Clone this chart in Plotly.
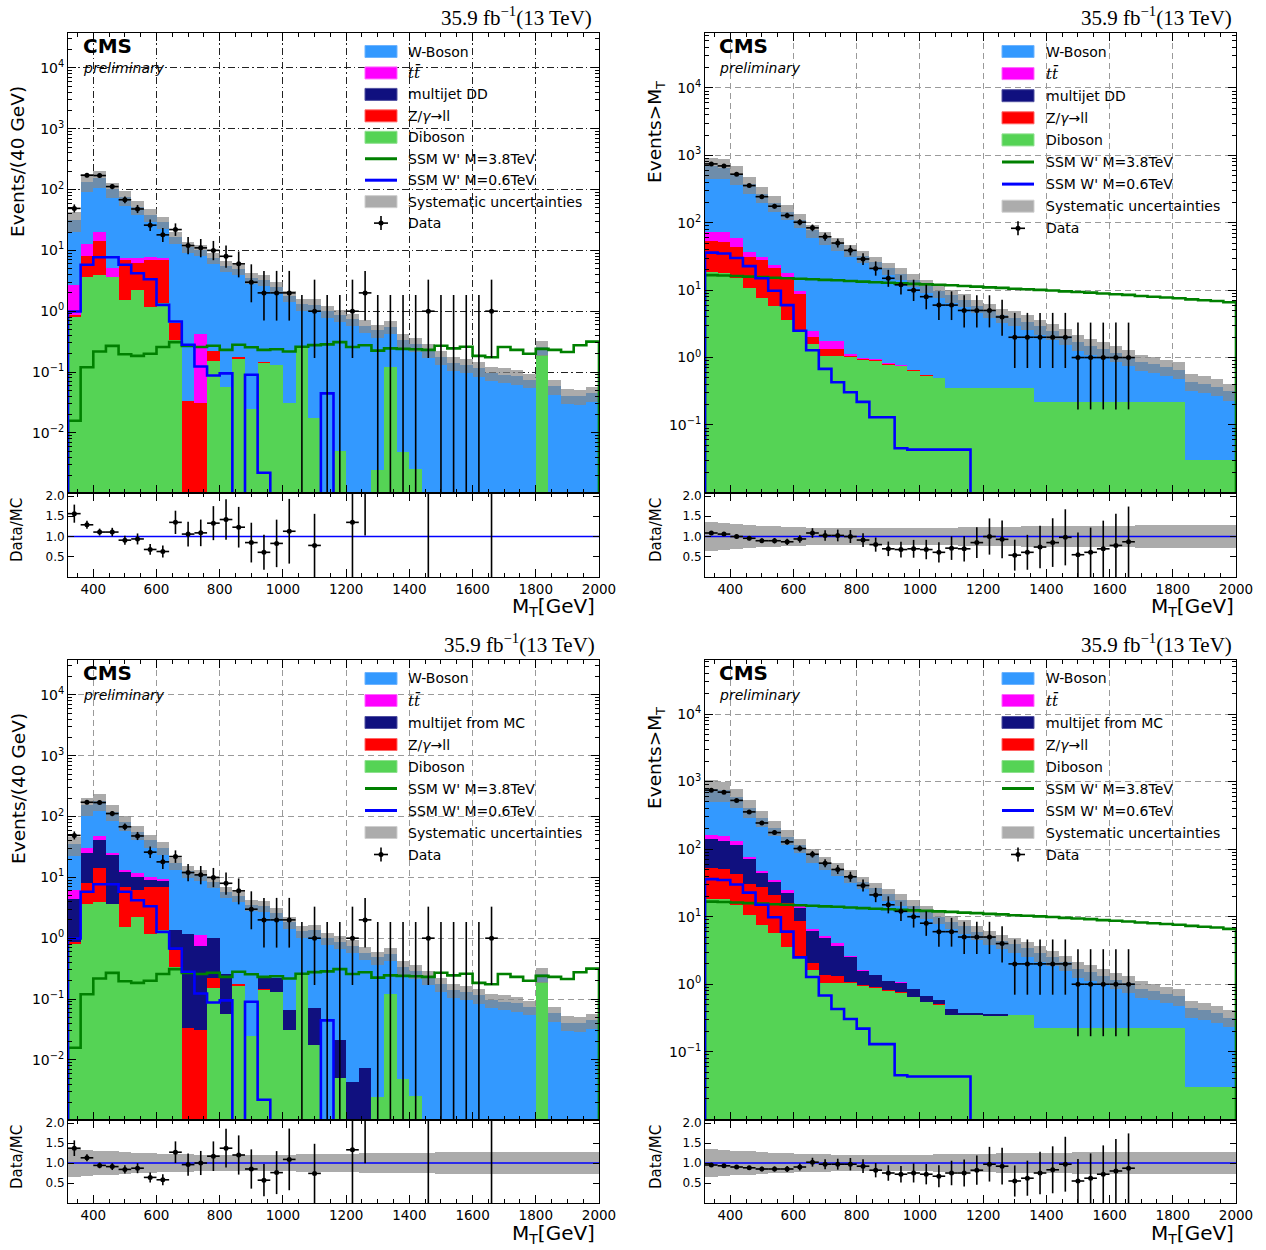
import math
import plotly.graph_objects as go

FIG_W, FIG_H = 1266, 1250

# ---------------- binning ----------------
EDGES = [320, 360, 400, 440, 480, 520, 560, 600, 640, 680, 720, 760, 800, 840, 880,
         920, 960, 1000, 1040, 1080, 1120, 1160, 1200, 1240, 1280, 1320, 1360, 1400,
         1440, 1480, 1520, 1560, 1600, 1640, 1680, 1720, 1760, 1800, 1840, 1880, 1920,
         1960, 2000]
CENTERS = [(a + b) / 2 for a, b in zip(EDGES[:-1], EDGES[1:])]
BIN_W = EDGES[1] - EDGES[0]

# ---------------- left panels: events per 40 GeV ----------------
DATA_L = [49, 172, 170, 112, 68, 48, 26, 18, 22, 12, 11, 10, 8, 6, 3, 2, 2, 2, 0, 1,
          0, 0, 1, 2, 0, 0, 0, 0, 1, 0, 0, 0, 0, 1]
DATA_L_LO = [7.0, 13.1, 13.0, 10.6, 8.2, 6.9, 5.1, 4.2, 4.7, 3.4, 3.3, 3.1, 2.8, 2.4, 1.6,
             1.3, 1.3, 1.3, 0, 0.83, 0, 0, 0.83, 1.3, 0, 0, 0, 0, 0.83, 0, 0, 0, 0, 0.83]
DATA_L_HI = [8.0, 14.1, 14.0, 11.6, 9.3, 7.9, 6.2, 5.3, 5.8, 4.6, 4.4, 4.3, 4.0, 3.6, 2.9,
             2.6, 2.6, 2.6, 1.84, 2.3, 1.84, 1.84, 2.3, 2.6, 1.84, 1.84, 1.84, 1.84, 2.3,
             1.84, 1.84, 1.84, 1.84, 2.3]
W_L = [28.5, 122.5, 132.5, 96, 67, 44, 30.5, 21.5, 15.7, 11.4, 9.7, 7.3, 5.5, 4.7, 3.5,
       3.15, 2.33, 1.75, 1.05, 1.27, 1.0, 0.85, 0.74, 0.57, 0.48, 0.43, 0.33, 0.29, 0.23,
       0.175, 0.14, 0.13, 0.115, 0.096, 0.09, 0.085, 0.074, 0.065, 0.058, 0.041, 0.040, 0.045]
DIB_L = [0.82, 3.6, 4.0, 3.7, 1.5, 2.25, 1.16, 1.36, 0.33, 0, 0, 0.149, 0.057, 0.169, 0.0246,
         0.143, 0.131, 0.031, 0.247, 0.0174, 0, 0.005, 0, 0, 0.0024, 0.123, 0.0049, 0.0025,
         0, 0, 0, 0, 0, 0, 0, 0, 0, 0.19, 0, 0, 0, 0]
Z_L = [0.03, 4.5, 10.5, 0, 5.5, 3.9, 5.8, 5.6, 0.31, 0.033, 0.031, 0.076, 0, 0.005, 0, 0.004,
       0, 0, 0, 0, 0, 0, 0, 0, 0, 0, 0, 0, 0, 0, 0, 0, 0, 0, 0, 0, 0, 0, 0, 0, 0, 0]
TT_L = [1.85, 4.5, 5.9, 1.4, 0.6, 1.45, 0.9, 0.6, 0, 0, 0.39, 0, 0, 0, 0, 0, 0, 0, 0, 0,
        0, 0, 0, 0, 0, 0, 0, 0, 0, 0, 0, 0, 0, 0, 0, 0, 0, 0, 0, 0, 0, 0]
MJDD_L = [0] * 42   # data-driven multijet: nothing visible in the plot
MJMC_L = [3.55, 17.3, 27, 20, 5.5, 4.0, 2.1, 1.8, 0.71, 1.13, 0.72, 0.8, 0.2, 0, 0, 0.08,
          0.094, 0.035, 0, 0.054, 0, 0.016, 0.0043, 0.0074, 0, 0, 0, 0, 0, 0, 0, 0, 0, 0,
          0, 0, 0, 0, 0, 0, 0, 0]
SIG06_L = [0.99, 5.8, 7.7, 7.7, 5.8, 4.2, 3.36, 1.27, 0.675, 0.28, 0.123, 0.0875, 0.095, 0,
           0.09, 0.0022, 0, 0, 0, 0, 0.0445, 0, 0, 0, 0, 0, 0, 0, 0, 0, 0, 0, 0, 0, 0, 0,
           0, 0, 0, 0, 0, 0]
SIG38_L = [0.0158, 0.12, 0.217, 0.269, 0.196, 0.184, 0.2, 0.257, 0.31, 0.269, 0.257, 0.27,
           0.231, 0.28, 0.255, 0.231, 0.237, 0.217, 0.26, 0.277, 0.285, 0.31, 0.257, 0.275,
           0.225, 0.245, 0.24, 0.237, 0.231, 0.27, 0.245, 0.26, 0.184, 0.175, 0.257, 0.231,
           0.2, 0.24, 0.231, 0.213, 0.275, 0.316]
RATIO_TL = [1.565, 1.29, 1.11, 1.11, 0.91, 0.94, 0.68, 0.63, 1.35, 1.06, 1.09, 1.33, 1.42,
            1.23, 0.85, 0.61, 0.83, 1.13, None, 0.78, None, None, 1.35, 3.5, None, None,
            None, None, 4.3, None, None, None, None, 10.4]
RATIO_BL = [1.37, 1.13, 0.94, 0.91, 0.84, 0.87, 0.64, 0.58, 1.27, 0.96, 1.0, 1.17, 1.37,
            1.2, 0.85, 0.57, 0.76, 1.09, None, 0.74, None, None, 1.33, 3.4, None, None,
            None, None, 4.3, None, None, None, None, 10.4]

# ---------------- right panels: events above M_T ----------------
DATA_R = [747, 698, 526, 356, 244, 176, 128, 102, 84, 62, 50, 39, 29, 21, 15, 12, 10, 8, 6,
          6, 5, 5, 5, 4, 2, 2, 2, 2, 2, 1, 1, 1, 1, 1]
DATA_R_LO = [27.3, 26.4, 22.9, 18.9, 15.6, 13.3, 11.3, 10.1, 9.1, 7.9, 7.1, 6.2, 5.4, 4.6,
             3.8, 3.4, 3.1, 2.8, 2.4, 2.4, 2.2, 2.2, 2.2, 1.9, 1.3, 1.3, 1.3, 1.3, 1.3, 0.83,
             0.83, 0.83, 0.83, 0.83]
DATA_R_HI = [27.8, 26.9, 23.4, 19.4, 16.6, 14.3, 12.3, 11.1, 10.2, 8.9, 8.1, 7.3, 6.4, 5.7,
             5.0, 4.6, 4.3, 4.0, 3.6, 3.6, 3.4, 3.4, 3.4, 3.2, 2.6, 2.6, 2.6, 2.6, 2.6, 2.3,
             2.3, 2.3, 2.3, 2.3]
W_R = [613, 586, 467, 336, 240, 172, 129, 99, 74.6, 58, 47, 37.6, 30.6, 24.9, 20.5, 16.8,
       13.6, 11.1, 9.2, 8.0, 6.85, 5.55, 4.65, 3.95, 3.55, 3.05, 2.68, 2.28, 1.88, 1.48,
       1.28, 1.11, 0.95, 0.81, 0.64, 0.58, 0.5, 0.44, 0.41, 0.38, 0.34, 0.29]
DIB_R = [18.5, 18.0, 15.0, 10.7, 7.6, 5.8, 3.6, 2.6, 1.6, 1.05, 1.05, 1.05, 0.95, 0.9, 0.8,
         0.75, 0.65, 0.55, 0.5, 0.35, 0.35, 0.35, 0.35, 0.35, 0.35, 0.35, 0.222, 0.222,
         0.222, 0.222, 0.222, 0.222, 0.222, 0.222, 0.222, 0.222, 0.222, 0.222, 0.03, 0.03,
         0.03, 0.03]
Z_R = [34.5, 33, 28, 20, 20, 15.2, 12.3, 6.1, 0.45, 0.3, 0.28, 0.03, 0.02, 0.02, 0.01, 0.01,
       0.005, 0.005, 0.005, 0, 0, 0, 0, 0, 0, 0, 0, 0, 0, 0, 0, 0, 0, 0, 0, 0, 0, 0, 0, 0,
       0, 0]
TT_R = [21, 21, 16, 6, 3.6, 3.0, 1.9, 1.0, 0.43, 0.41, 0.41, 0.04, 0.03, 0.02, 0.01, 0.01,
        0, 0, 0, 0, 0, 0, 0, 0, 0, 0, 0, 0, 0, 0, 0, 0, 0, 0, 0, 0, 0, 0, 0, 0, 0, 0]
MJDD_R = [0] * 42
MJMC_R = [86, 83, 71, 40, 16, 11.5, 6.7, 4.8, 4.1, 3.5, 2.4, 1.5, 0.6, 0.45, 0.31, 0.3, 0.2,
          0.11, 0.08, 0.08, 0.027, 0.027, 0.011, 0.007, 0, 0, 0, 0, 0, 0, 0, 0, 0, 0, 0, 0,
          0, 0, 0, 0, 0, 0]
SIG06_R = [36, 35, 30, 22.7, 15, 9.8, 6.0, 2.5, 1.28, 0.68, 0.43, 0.305, 0.22, 0.13, 0.13,
           0.045, 0.043, 0.043, 0.043, 0.043, 0.043, 0, 0, 0, 0, 0, 0, 0, 0, 0, 0, 0, 0, 0,
           0, 0, 0, 0, 0, 0, 0, 0]
SIG38_R = [16.7, 16.5, 16.2, 15.9, 15.6, 15.3, 15.0, 14.8, 14.5, 14.2, 14.0, 13.7, 13.4,
           13.1, 12.9, 12.6, 12.4, 12.2, 12.0, 11.8, 11.5, 11.3, 11.0, 10.8, 10.5, 10.3,
           10.1, 9.9, 9.6, 9.4, 9.2, 8.9, 8.7, 8.5, 8.2, 8.0, 7.8, 7.6, 7.3, 7.1, 6.9, 6.6]
RATIO_TR = [1.087, 1.06, 1.0, 0.957, 0.896, 0.896, 0.87, 0.94, 1.087, 1.026, 1.026, 1.0,
            0.913, 0.8, 0.696, 0.678, 0.696, 0.678, 0.61, 0.713, 0.696, 0.85, 1.0, 0.93,
            0.54, 0.61, 0.74, 0.85, 0.98, 0.55, 0.61, 0.696, 0.78, 0.87]
RATIO_BR = [0.95, 0.93, 0.9, 0.88, 0.85, 0.85, 0.85, 0.9, 1.02, 0.97, 0.97, 0.97, 0.92,
            0.82, 0.75, 0.72, 0.75, 0.72, 0.67, 0.75, 0.75, 0.82, 0.97, 0.92, 0.55, 0.62,
            0.75, 0.83, 0.97, 0.55, 0.62, 0.72, 0.8, 0.87]

# relative systematic uncertainty per bin
SYST = [0.35, 0.33, 0.31, 0.29, 0.27, 0.255, 0.24, 0.23, 0.22, 0.215, 0.21, 0.205, 0.2,
        0.2, 0.2, 0.2, 0.205, 0.21, 0.215, 0.22, 0.225, 0.23, 0.235, 0.24, 0.245, 0.25,
        0.255, 0.26, 0.26, 0.265, 0.265, 0.27, 0.27, 0.27, 0.275, 0.275, 0.275, 0.28, 0.28,
        0.28, 0.28, 0.28]

LEG_TOP = ["W-Boson", "tt", "multijet DD", "Z", "Diboson", "SSM W' M=3.8TeV",
           "SSM W' M=0.6TeV", "Systematic uncertainties", "Data"]
LEG_BOT = ["W-Boson", "tt", "multijet from MC", "Z", "Diboson", "SSM W' M=3.8TeV",
           "SSM W' M=0.6TeV", "Systematic uncertainties", "Data"]

# ---------------- styles ----------------
C_W = "#3399ff"
C_TT = "#ff00ff"
C_MJ = "#10107f"
C_Z = "#ff0000"
C_DIB = "#55d355"
C_S38 = "#008000"
C_S06 = "#0000ff"
C_BAND = "rgba(136,136,136,0.7)"
FLOOR = 1e-7
SANS = "DejaVu Sans"
SERIF = "Liberation Serif"


def P(x):
    return x / FIG_W


def Q(y):
    return 1 - y / FIG_H


PANELS = [
    dict(x0=68, x1=599, ytop=33, ymid=493, ybot=577, yr=[-2.99, 4.575], kmin=-2,
         W=W_L, DIB=DIB_L, Z=Z_L, TT=TT_L, MJ=MJDD_L, S06=SIG06_L, S38=SIG38_L,
         data=DATA_L, lo=DATA_L_LO, hi=DATA_L_HI, ratio=RATIO_TL, rband=False,
         gridc="#222222", griddash="7px,3px,1.5px,3px", ratioline="#0000ff",
         ylabel="Events/(40 GeV)", ylab_xy=(18, 162), rlab_xy=(17, 530),
         lumi_xy=(594, 16), xlab_xy=(597, 607), cms_xy=(81, 46),
         leg=LEG_TOP, leg_px=(365, 397, 406), leg_rows=(51.5, 21.45)),
    dict(x0=705, x1=1236, ytop=33, ymid=493, ybot=577, yr=[-2.01, 4.816], kmin=-1,
         W=W_R, DIB=DIB_R, Z=Z_R, TT=TT_R, MJ=MJDD_R, S06=SIG06_R, S38=SIG38_R,
         data=DATA_R, lo=DATA_R_LO, hi=DATA_R_HI, ratio=RATIO_TR, rband=True,
         gridc="#9a9a9a", griddash="6px,4px", ratioline="#0000ff",
         ylabel="Events>M<sub>T</sub>", ylab_xy=(656, 132), rlab_xy=(656, 530),
         lumi_xy=(1234, 16), xlab_xy=(1236, 607), cms_xy=(717, 46),
         leg=LEG_TOP, leg_px=(1002, 1034, 1044), leg_rows=(51.5, 22.1)),
    dict(x0=68, x1=599, ytop=660, ymid=1120, ybot=1203, yr=[-2.99, 4.575], kmin=-2,
         W=W_L, DIB=DIB_L, Z=Z_L, TT=TT_L, MJ=MJMC_L, S06=SIG06_L, S38=SIG38_L,
         data=DATA_L, lo=DATA_L_LO, hi=DATA_L_HI, ratio=RATIO_BL, rband=True,
         gridc="#9a9a9a", griddash="6px,4px", ratioline="#0000ff",
         ylabel="Events/(40 GeV)", ylab_xy=(18, 789), rlab_xy=(17, 1157),
         lumi_xy=(597, 643), xlab_xy=(597, 1234), cms_xy=(81, 673),
         leg=LEG_BOT, leg_px=(365, 397, 406), leg_rows=(678.5, 22.0)),
    dict(x0=705, x1=1236, ytop=660, ymid=1120, ybot=1203, yr=[-2.01, 4.80], kmin=-1,
         W=W_R, DIB=DIB_R, Z=Z_R, TT=TT_R, MJ=MJMC_R, S06=SIG06_R, S38=SIG38_R,
         data=DATA_R, lo=DATA_R_LO, hi=DATA_R_HI, ratio=RATIO_BR, rband=True,
         gridc="#9a9a9a", griddash="6px,4px", ratioline="#0000ff",
         ylabel="Events>M<sub>T</sub>", ylab_xy=(656, 758), rlab_xy=(656, 1157),
         lumi_xy=(1234, 643), xlab_xy=(1236, 1234), cms_xy=(717, 673),
         leg=LEG_BOT, leg_px=(1002, 1034, 1044), leg_rows=(678.5, 22.0)),
]

fig = go.Figure()
layout = dict(width=FIG_W, height=FIG_H, margin=dict(l=0, r=0, t=0, b=0, autoexpand=False),
              paper_bgcolor="white", plot_bgcolor="white", showlegend=False,
              barmode="overlay", bargap=0, font=dict(family=SANS, color="black"))
annotations = []
shapes = []


def step_xy(vals):
    xs = [EDGES[0]] + EDGES[:-1] + [EDGES[-1], EDGES[-1]]
    v = [x if x > 0 else FLOOR for x in vals]
    ys = [FLOOR] + v + [v[-1], FLOOR]
    return xs, ys


def ann(x, y, text, size, xanchor="left", family=SANS, angle=0, yanchor="middle"):
    annotations.append(dict(x=P(x), y=Q(y), xref="paper", yref="paper", text=text,
                            showarrow=False, xanchor=xanchor, yanchor=yanchor,
                            textangle=angle, font=dict(size=size, family=family, color="black")))


for ip, p in enumerate(PANELS):
    im, ir = 2 * ip + 1, 2 * ip + 2
    xm, ym = f"x{im}", f"y{im}"
    xr, yr = f"x{ir}", f"y{ir}"

    # ---- stacked histograms ----
    cum = [0.0] * len(CENTERS)
    for comp, col in [(p["DIB"], C_DIB), (p["Z"], C_Z), (p["MJ"], C_MJ),
                      (p["TT"], C_TT), (p["W"], C_W)]:
        base = [c if c > 0 else FLOOR for c in cum]
        fig.add_trace(go.Bar(x=CENTERS, y=comp, base=base, width=BIN_W,
                             marker=dict(color=col, line=dict(width=0)),
                             xaxis=xm, yaxis=ym, hoverinfo="skip"))
        cum = [c + v for c, v in zip(cum, comp)]
    total = cum

    # ---- systematic band ----
    fig.add_trace(go.Bar(x=CENTERS, y=[2 * s * t for s, t in zip(SYST, total)],
                         base=[t * (1 - s) for s, t in zip(SYST, total)], width=BIN_W,
                         marker=dict(color=C_BAND, line=dict(width=0)),
                         xaxis=xm, yaxis=ym, hoverinfo="skip"))

    # ---- signals ----
    for sig, col in [(p["S38"], C_S38), (p["S06"], C_S06)]:
        sx, sy = step_xy(sig)
        fig.add_trace(go.Scatter(x=sx, y=sy, mode="lines", line=dict(color=col, width=2.6, shape="hv"),
                                 xaxis=xm, yaxis=ym, hoverinfo="skip"))

    # ---- data ----
    n = len(p["data"])
    dx = [CENTERS[i] for i in range(n) if p["data"][i] > 0]
    dy = [p["data"][i] for i in range(n) if p["data"][i] > 0]
    dlo = [p["lo"][i] for i in range(n) if p["data"][i] > 0]
    dhi = [p["hi"][i] for i in range(n) if p["data"][i] > 0]
    zx, zy = [], []
    for i in range(n):
        if p["data"][i] == 0:
            zx += [CENTERS[i], CENTERS[i], None]
            zy += [FLOOR, p["hi"][i], None]
    if zx:
        fig.add_trace(go.Scatter(x=zx, y=zy, mode="lines", line=dict(color="black", width=1.6),
                                 xaxis=xm, yaxis=ym, hoverinfo="skip"))
    fig.add_trace(go.Scatter(x=dx, y=dy, mode="markers",
                             marker=dict(color="black", size=5),
                             error_y=dict(type="data", symmetric=False, array=dhi, arrayminus=dlo,
                                          thickness=1.6, width=0, color="black"),
                             error_x=dict(type="constant", value=BIN_W / 2, thickness=1.6,
                                          width=0, color="black"),
                             xaxis=xm, yaxis=ym, hoverinfo="skip"))

    # ---- ratio ----
    fig.add_trace(go.Scatter(x=[EDGES[0], EDGES[-1]], y=[1, 1], mode="lines",
                             line=dict(color=p["ratioline"], width=1.5),
                             xaxis=xr, yaxis=yr, hoverinfo="skip"))
    if p["rband"]:
        fig.add_trace(go.Bar(x=CENTERS, y=[2 * s for s in SYST], base=[1 - s for s in SYST],
                             width=BIN_W, marker=dict(color=C_BAND, line=dict(width=0)),
                             xaxis=xr, yaxis=yr, hoverinfo="skip"))
    rx = [CENTERS[i] for i in range(n) if p["ratio"][i] is not None]
    ry = [p["ratio"][i] for i in range(n) if p["ratio"][i] is not None]
    re = [p["ratio"][i] / math.sqrt(p["data"][i]) for i in range(n) if p["ratio"][i] is not None]
    fig.add_trace(go.Scatter(x=rx, y=ry, mode="markers", marker=dict(color="black", size=5),
                             error_y=dict(type="data", array=re, thickness=1.6, width=0, color="black"),
                             error_x=dict(type="constant", value=BIN_W / 2, thickness=1.6,
                                          width=0, color="black"),
                             xaxis=xr, yaxis=yr, hoverinfo="skip"))

    # ---- axes ----
    xdom = [P(p["x0"]), P(p["x1"])]
    ydom_main = [Q(p["ymid"]), Q(p["ytop"])]
    ydom_rat = [Q(p["ybot"]), Q(p["ymid"])]
    kvals = list(range(p["kmin"], 5))
    minor_vals = [m * 10 ** k for k in range(-3, 5) for m in range(2, 10)
                  if p["yr"][0] < math.log10(m * 10 ** k) < p["yr"][1]]
    common_x = dict(range=[EDGES[0], EDGES[-1]], ticks="inside", ticklen=8, tickcolor="black",
                    tick0=400, dtick=200, showline=True, linecolor="black", linewidth=1,
                    mirror="allticks", zeroline=False, automargin=False,
                    minor=dict(ticks="inside", ticklen=4, dtick=50, tick0=400,
                               tickcolor="black", showgrid=False))
    layout[f"xaxis{im}"] = dict(common_x, domain=xdom, anchor=ym, showticklabels=False,
                                showgrid=True, gridcolor=p["gridc"], griddash=p["griddash"],
                                gridwidth=1)
    layout[f"xaxis{ir}"] = dict(common_x, domain=xdom, anchor=yr, showticklabels=True,
                                showgrid=False, tickfont=dict(size=13.5, family=SANS))
    layout[f"yaxis{im}"] = dict(domain=ydom_main, anchor=xm, type="log", range=p["yr"],
                                tickvals=[10 ** k for k in kvals],
                                ticktext=[f"10<sup>{'−' if k < 0 else ''}{abs(k)}</sup>" for k in kvals],
                                ticks="inside", ticklen=8, tickcolor="black", automargin=False,
                                minor=dict(tickvals=minor_vals, ticks="inside", ticklen=4,
                                           tickcolor="black", showgrid=False),
                                showgrid=True, gridcolor=p["gridc"], griddash=p["griddash"],
                                gridwidth=1, showline=True, linecolor="black", linewidth=1,
                                mirror="allticks", zeroline=False,
                                tickfont=dict(size=14, family=SANS))
    layout[f"yaxis{ir}"] = dict(domain=ydom_rat, anchor=xr, range=[0, 2.075],
                                tickvals=[0.5, 1.0, 1.5, 2.0],
                                ticktext=["0.5", "1.0", "1.5", "2.0"],
                                ticks="inside", ticklen=6, tickcolor="black", automargin=False,
                                showgrid=False, showline=True, linecolor="black", linewidth=1,
                                mirror="allticks", zeroline=False,
                                tickfont=dict(size=12, family=SANS))

    # ---- texts ----
    ann(p["lumi_xy"][0], p["lumi_xy"][1], "35.9 fb<sup>−1</sup>(13 TeV)", 21, "right", SERIF)
    ann(p["cms_xy"][0], p["cms_xy"][1], "<b>CMS</b>", 20)
    ann(p["cms_xy"][0], p["cms_xy"][1] + 22, "<i>preliminary</i>", 14)
    ann(p["ylab_xy"][0], p["ylab_xy"][1], p["ylabel"], 18.5, "center", SANS, -90)
    ann(p["rlab_xy"][0], p["rlab_xy"][1], "Data/MC", 15, "center", SANS, -90)
    ann(p["xlab_xy"][0], p["xlab_xy"][1], "M<sub>T</sub>[GeV]", 20, "right")

    # ---- legend ----
    lx0, lx1, ltx = p["leg_px"]
    y0, dy_ = p["leg_rows"]
    kinds = [("patch", C_W, "#6db3ff"), ("patch", C_TT, "#ff66ff"), ("patch", C_MJ, "#5050a0"),
             ("patch", C_Z, "#ff6666"), ("patch", C_DIB, "#8fe08f"), ("line", C_S38, None),
             ("line", C_S06, None), ("patch", "#acacac", "#cfcfcf"), ("data", "black", None)]
    for j, (kind, col, edge) in enumerate(kinds):
        yc = y0 + j * dy_
        if kind == "patch":
            shapes.append(dict(type="rect", xref="paper", yref="paper", x0=P(lx0), x1=P(lx1),
                               y0=Q(yc + 6), y1=Q(yc - 6), fillcolor=col,
                               line=dict(color=edge, width=1)))
        elif kind == "line":
            shapes.append(dict(type="line", xref="paper", yref="paper", x0=P(lx0), x1=P(lx1),
                               y0=Q(yc), y1=Q(yc), line=dict(color=col, width=3)))
        else:
            xc = (lx0 + lx1) / 2
            shapes.append(dict(type="line", xref="paper", yref="paper", x0=P(xc - 7), x1=P(xc + 7),
                               y0=Q(yc), y1=Q(yc), line=dict(color="black", width=1.6)))
            shapes.append(dict(type="line", xref="paper", yref="paper", x0=P(xc), x1=P(xc),
                               y0=Q(yc - 7), y1=Q(yc + 7), line=dict(color="black", width=1.6)))
            shapes.append(dict(type="circle", xref="paper", yref="paper", x0=P(xc - 2.5),
                               x1=P(xc + 2.5), y0=Q(yc + 2.5), y1=Q(yc - 2.5),
                               fillcolor="black", line=dict(width=0)))
        label = p["leg"][j]
        if label == "tt":
            ann(ltx, yc, "<i>tt̄</i>", 15, "left", "DejaVu Serif")
        elif label == "Z":
            ann(ltx, yc, "Z/<i>γ</i>→ll", 14)
        else:
            ann(ltx, yc, label, 14)

layout["annotations"] = annotations
layout["shapes"] = shapes
fig.update_layout(**layout)
fig.write_html("out.html")
